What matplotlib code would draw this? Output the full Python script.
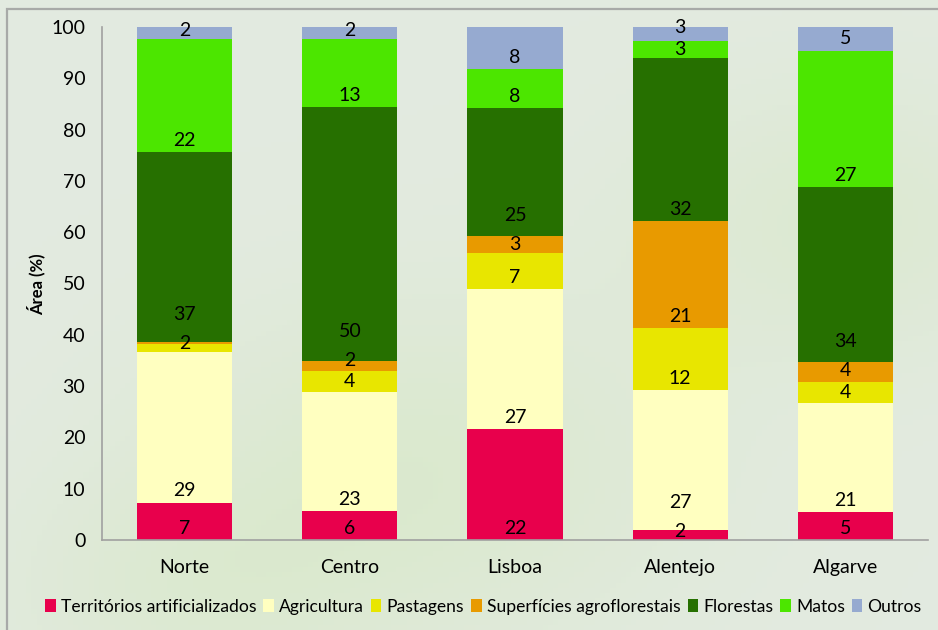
import numpy as np
import matplotlib.pyplot as plt
from matplotlib.patches import Rectangle

regioes = ['Norte', 'Centro', 'Lisboa', 'Alentejo', 'Algarve']
classes = ['Territórios artificializados', 'Agricultura', 'Pastagens',
           'Superfícies agroflorestais', 'Florestas', 'Matos', 'Outros']
cores = ['#e8004c', '#ffffc0', '#e8e600', '#e89a00', '#267000', '#4ce600', '#96aad0']

# % de área por classe (Norte, Centro, Lisboa, Alentejo, Algarve)
territorios = [7.3, 5.6, 21.6, 1.9, 5.4]
agricultura = [29.4, 23.2, 27.3, 27.3, 21.4]
pastagens = [1.6, 4.1, 7.0, 12.1, 4.0]
agroflorestais = [0.2, 1.9, 3.4, 20.9, 3.9]
florestas = [37.1, 49.6, 24.9, 31.8, 34.1]
matos = [22.0, 13.3, 7.6, 3.2, 26.6]
outros = [2.4, 2.3, 8.2, 2.8, 4.6]
valores = [territorios, agricultura, pastagens, agroflorestais, florestas, matos, outros]

plt.rcParams['font.family'] = ['Lato', 'DejaVu Sans']

W, H = 938, 630
fig = plt.figure(figsize=(W / 100, H / 100), dpi=100)

# fundo esbatido esverdeado
bg = fig.add_axes([0, 0, 1, 1], zorder=-10)
gy, gx = np.mgrid[0:1:120j, 0:1:180j]
campo = (0.6 * np.exp(-((gx - 0.45) ** 2 + (gy - 0.75) ** 2) / 0.08)
         + 0.5 * np.exp(-((gx - 0.9) ** 2 + (gy - 0.35) ** 2) / 0.05)
         + 0.4 * np.exp(-((gx - 0.2) ** 2 + (gy - 0.95) ** 2) / 0.04))
campo = np.clip(campo, 0, 1)
c0 = np.array([0.89, 0.92, 0.88])
c1 = np.array([0.84, 0.91, 0.77])
img = c0 + (c1 - c0) * campo[..., None]
bg.imshow(img, aspect='auto', extent=[0, 1, 0, 1], origin='upper')
bg.axis('off')
fig.add_artist(Rectangle((7 / W, -0.05), 1.1, (H - 9) / H + 0.05, transform=fig.transFigure,
                         fill=False, edgecolor='#a8aaa8', lw=1.6))

ax = fig.add_axes([102 / W, (H - 540) / H, (928 - 102) / W, (540 - 27) / H])
ax.patch.set_alpha(0)

x = np.arange(len(regioes))
base = np.zeros(len(regioes))
ultimo = np.full(len(regioes), -10.0)
for nome, vals, cor in zip(classes, valores, cores):
    vals = np.array(vals)
    ax.bar(x, vals, 0.576, bottom=base, color=cor, label=nome)
    for i, (xi, b, v) in enumerate(zip(x, base, vals)):
        if round(v) >= 1:
            y = b + min(2.3, max(1.7, v / 2))
            if y - ultimo[i] < 4.2:
                y = ultimo[i] + (5.6 if v > 10 else 4.2)
            ultimo[i] = y
            ax.text(xi, y, f'{v:.0f}', ha='center', va='center', fontsize=14, color='black')
    base += vals

ax.set_xlim(-0.5, 4.5)
ax.set_ylim(0, 100)
ax.set_yticks(range(0, 101, 10))
ax.set_xticks(x)
ax.set_xticklabels(regioes)
ax.tick_params(axis='y', length=0, pad=12, labelsize=14)
ax.tick_params(axis='x', length=0, pad=14, labelsize=14)
for s in ['top', 'right']:
    ax.spines[s].set_visible(False)
for s in ['left', 'bottom']:
    ax.spines[s].set_color('#a0a0a0')
    ax.spines[s].set_linewidth(1.2)
fig.text(36 / W, (H - 284) / H, 'Área (%)', rotation=90, ha='center', va='center',
         fontsize=12, fontweight='bold')

fig.legend(loc='center left', bbox_to_anchor=(38 / W, (H - 607) / H), ncol=7, frameon=False,
           fontsize=12.6, handlelength=0.6, handleheight=0.75, handletextpad=0.3,
           columnspacing=0.4, borderaxespad=0)

fig.savefig('out.png', dpi=100)
